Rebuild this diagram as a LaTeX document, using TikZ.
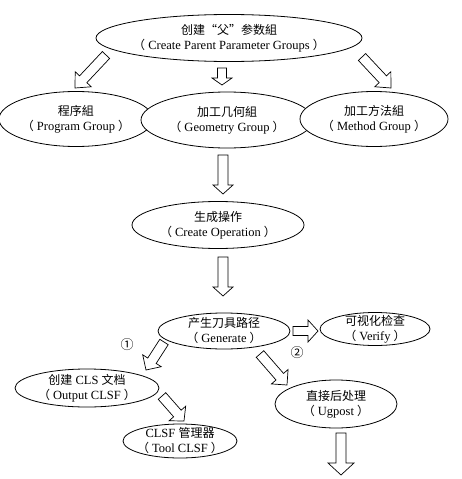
\documentclass[tikz,border=0pt]{standalone}
\usepackage{fontspec}
\setmainfont{Liberation Serif}
\newfontfamily\cjk{Noto Sans CJK SC}
\usetikzlibrary{shapes.geometric,calc}
\tikzset{
  oval/.style={ellipse, draw, fill=white, line width=0.8pt, inner sep=0pt},
  lbl/.style={align=center, inner sep=0pt, font=\fontsize{12.5}{15}\selectfont},
  fatarrow/.style={draw, line width=0.7pt, line join=miter},
}
\newcommand\zh[1]{{\cjk\fontsize{12}{15}\selectfont #1}}
\newcommand\hollowarrow[5]{%
  \coordinate (nk) at ($(#2)!#5!(#1)$);
  \draw[fatarrow] ($(#1)!#3!90:(#2)$) -- ($(nk)!#3!90:(#2)$) -- ($(nk)!#4!90:(#2)$) -- (#2)
    -- ($(nk)!#4!-90:(#2)$) -- ($(nk)!#3!-90:(#2)$) -- ($(#1)!#3!-90:(#2)$) -- cycle;
}
\begin{document}
\begin{tikzpicture}[x=1pt,y=-1pt]
\useasboundingbox (0,0) rectangle (462,479);
% arrow end points
\coordinate (a1s) at (106,55);  \coordinate (a1t) at (75,88);
\coordinate (a2s) at (222,68);  \coordinate (a2t) at (222,85);
\coordinate (a3s) at (362,57);  \coordinate (a3t) at (391,88);
\coordinate (a4s) at (223,155); \coordinate (a4t) at (223,194);
\coordinate (a5s) at (223,257); \coordinate (a5t) at (223,296);
\coordinate (a6s) at (164,342); \coordinate (a6t) at (146,370);
\coordinate (a7s) at (293,331); \coordinate (a7t) at (318,331);
\coordinate (a8s) at (260,354); \coordinate (a8t) at (287,385);
\coordinate (a9s) at (162,396); \coordinate (a9t) at (184,421);
\coordinate (a10s) at (341,433); \coordinate (a10t) at (341,475);
\hollowarrow{a1s}{a1t}{5pt}{11pt}{12pt}
\hollowarrow{a2s}{a2t}{4.5pt}{10pt}{7pt}
\hollowarrow{a3s}{a3t}{5pt}{11pt}{12pt}
\hollowarrow{a4s}{a4t}{5pt}{10pt}{9pt}
\hollowarrow{a5s}{a5t}{5pt}{10pt}{9pt}
\hollowarrow{a6s}{a6t}{5pt}{11pt}{11pt}
\hollowarrow{a7s}{a7t}{4.5pt}{11pt}{10pt}
\hollowarrow{a8s}{a8t}{5pt}{11pt}{11pt}
\hollowarrow{a9s}{a9t}{5pt}{11pt}{10pt}
\hollowarrow{a10s}{a10t}{5pt}{13pt}{12pt}
% ellipses
\node[oval, minimum width=266pt, minimum height=47pt] (top) at (229,38) {};
\node[oval, minimum width=154pt, minimum height=55pt] (prog) at (76,119) {};
\node[oval, minimum width=172pt, minimum height=56pt] (geom) at (227,120) {};
\node[oval, minimum width=148pt, minimum height=55pt] (meth) at (374,119) {};
\node[oval, minimum width=172pt, minimum height=47pt] (cop) at (218,225) {};
\node[oval, minimum width=132pt, minimum height=36pt] (gen) at (224,331) {};
\node[oval, minimum width=110pt, minimum height=33pt] (ver) at (375,329) {};
\node[oval, minimum width=144pt, minimum height=38pt] (out) at (87,388) {};
\node[oval, minimum width=122pt, minimum height=48pt] (ug) at (336,404) {};
\node[oval, minimum width=114pt, minimum height=34pt] (tool) at (180,441) {};
% texts
\node[lbl] (topt) at (top) {\zh{创建“父”参数組}\\\zh{（} Create Parent Parameter Groups \zh{）}};
\node[lbl] (progt) at (prog) {\zh{程序組}\\\zh{（} Program Group \zh{）}};
\node[lbl] (geomt) at (geom) {\zh{加工几何組}\\\zh{（} Geometry Group \zh{）}};
\node[lbl] (metht) at (meth) {\zh{加工方法組}\\\zh{（} Method Group \zh{）}};
\node[lbl] (copt) at (cop) {\zh{生成操作}\\\zh{（} Create Operation \zh{）}};
\node[lbl] (gent) at (gen) {\zh{产生刀具路径}\\\zh{（} Generate \zh{）}};
\node[lbl] (vert) at (ver) {\zh{可视化检查}\\\zh{（} Verify \zh{）}};
\node[lbl] (outt) at (out) {\zh{创建} CLS \zh{文档}\\\zh{（} Output CLSF \zh{）}};
\node[lbl] (ugt) at (ug) {\zh{直接后处理}\\\zh{（} Ugpost \zh{）}};
\node[lbl] (toolt) at (tool) {CLSF \zh{管理器}\\\zh{（} Tool CLSF \zh{）}};
\node[lbl] (n1) at (127,345) {\cjk\fontsize{13}{15}\selectfont ①};
\node[lbl] (n2) at (297,353) {\cjk\fontsize{13}{15}\selectfont ②};
\end{tikzpicture}
\end{document}
